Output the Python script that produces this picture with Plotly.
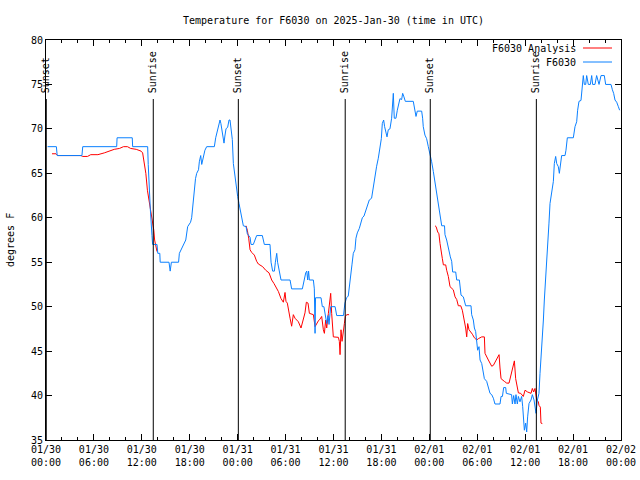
import pandas as pd
import plotly.graph_objects as go

START = pd.Timestamp("2025-01-30 00:00")

# Observed temperature (F6030): hours since 2025-01-30 00:00 UTC, degrees F
obs_hours = [0.2, 1.3, 1.4, 4.5, 4.6, 8.85, 8.9, 10.8, 10.85, 12.73, 12.8, 12.94, 13.06, 13.27, 13.35, 13.9, 14.0, 14.25, 14.3, 15.4, 15.55, 15.7, 16.6,
             16.7, 17.0, 17.3, 17.5, 17.74, 18.1, 18.24, 18.35, 18.45, 18.6, 18.72, 18.87, 19.1, 19.2, 19.37, 19.5, 19.7, 19.9, 20.12, 21.08, 21.25, 21.4,
             21.66, 21.79, 21.9, 22.08, 22.29, 22.4, 22.54, 22.75, 22.92, 23.04, 23.17, 23.33, 23.46, 23.6, 23.72, 23.88, 24.0, 24.17, 24.3, 24.42, 24.58,
             24.71, 25.05, 25.21, 25.55, 25.67, 25.96, 26.17, 26.38, 27.09, 27.34, 28.05, 28.18, 28.38, 28.6, 28.72, 28.89, 29.0, 29.22, 29.43, 30.56,
             30.76, 32.1, 32.31, 32.52, 32.65, 32.77, 32.88, 32.98, 33.48, 33.6, 33.69, 33.75, 34.44, 34.6, 34.8, 34.98, 35.15, 35.31, 35.44, 35.65, 36.2,
             36.4, 37.25, 37.43, 37.64, 37.85, 37.98, 38.15, 38.31, 38.48, 38.69, 38.81, 38.98, 39.23, 39.4, 39.61, 39.82, 40.07, 40.23, 40.48, 40.77,
             40.9, 41.07, 41.23, 41.4, 41.61, 41.82, 41.99, 42.11, 42.28, 42.4, 42.57, 42.7, 42.86, 43.07, 43.28, 43.4, 43.49, 43.61, 43.82, 43.99, 44.16,
             44.32, 44.53, 44.66, 44.82, 44.99, 45.99, 46.16, 46.33, 46.49, 47.04, 47.16, 47.24, 47.45, 47.66, 47.87, 48.08, 48.29, 48.5, 48.7, 48.91,
             49.12, 49.25, 49.34, 49.55, 49.9, 49.96, 50.17, 50.3, 50.46, 50.63, 50.8, 50.92, 51.3, 51.43, 51.76, 51.88, 51.97, 52.26, 52.38, 52.55,
             53.22, 53.3, 53.51, 53.64, 53.8, 53.93, 54.05, 54.22, 54.35, 54.56, 54.76, 54.89, 55.18, 55.39, 55.6, 55.81, 56.02, 56.22, 56.85, 56.98,
             57.15, 57.31, 57.56, 57.64, 58.3, 58.4, 58.56, 58.73, 58.85, 59.02, 59.15, 59.35, 59.56, 59.69, 59.81, 59.9, 60.06, 60.19, 60.31, 60.48,
             60.73, 60.9, 61.11, 61.23, 61.36, 61.53, 61.73, 61.86, 62.07, 62.28, 62.4, 62.57, 62.69, 62.82, 62.98, 63.11, 63.32, 63.53, 63.65, 63.82,
             63.95, 64.15, 64.28, 64.45, 64.57, 64.99, 65.11, 65.28, 66.03, 66.24, 66.45, 66.57, 66.74, 66.99, 67.16, 67.28, 67.41, 67.58, 67.7, 67.91,
             68.16, 68.33, 68.45, 68.74, 68.95, 69.25, 69.5, 69.91, 70.08, 70.75, 70.92, 71.08, 71.25, 71.46, 71.67, 71.83]
obs_temps = [68, 68, 67, 67, 68, 68, 69, 69, 68, 68, 66, 62.5, 61, 58, 57, 57, 56, 56, 55, 55, 54, 55, 55,
             56, 56.5, 57, 57.5, 59, 59.5, 60, 61, 62.4, 63.3, 64.4, 65, 65.4, 66.3, 67, 66, 67, 67.6, 68, 68, 69, 69.5,
             70.4, 71, 70.6, 69.5, 68.4, 69.2, 70, 70.2, 71, 71, 70.2, 68.8, 66.1, 65, 64.2, 63.1, 62.4, 61.6, 60.9, 60.3, 59.8,
             59.1, 59, 58.2, 57.8, 57, 57, 57.5, 58, 58, 57, 57, 55, 54, 54, 55, 56, 55, 54, 53, 53,
             52, 52, 53, 53.8, 54, 53, 54, 53, 53, 52, 47, 51, 51, 50, 50, 49, 48.1, 49, 48, 50, 50,
             49, 49, 50.4, 51, 51.2, 52.4, 53.6, 54.7, 56, 56.4, 57.7, 58.3, 58.8, 59.4, 60, 60.2, 60.9, 61.4, 62, 62.2,
             63, 63.9, 64.8, 65.8, 66.7, 67.8, 68.9, 70.6, 71, 70.25, 69.7, 69.1, 69.9, 70, 71.2, 73.1, 74, 71.2, 71.2, 72.1, 72.9,
             73.4, 73.3, 74, 73.6, 73.1, 73.1, 72.3, 71.4, 72, 72, 71.2, 70.25, 69.3, 68.9, 68, 67.3, 66.3, 65.2, 64.1, 62.8,
             61.8, 60.7, 60.1, 59.1, 59.1, 58.1, 57.5, 56.9, 56.2, 55.6, 55.1, 53.9, 53.9, 53, 53, 52.1, 51.3, 51.1, 50.6, 50.1,
             50.1, 49.1, 48.5, 47.6, 47.2, 46.1, 45.1, 45.5, 44, 43.6, 42.5, 41.9, 41.6, 41, 40.25, 40.1, 39.7, 39.05, 39.05, 39.9,
             39.9, 40.9, 40.9, 40.25, 40.1, 39.05, 40, 39.05, 40.1, 39.05, 39.9, 39.3, 39.9, 38.75, 37.6, 36.1, 36.9, 35.9, 37.6, 39.1,
             39.5, 40.1, 39.5, 38.4, 38, 39.5, 40.25, 42.5, 45.1, 48.5, 50.75, 53, 55.1, 56.4, 59.4, 61.6, 63.1, 64.1, 66.1, 66.9,
             66.1, 65.75, 65, 66.5, 67, 67, 67.6, 69, 69, 70.25, 70.8, 72.1, 73.1, 73.2, 74.9, 76, 75, 75, 76, 75,
             75, 76, 75, 75, 76, 75, 76, 76, 75, 75, 74.4, 74, 73.25, 73, 72.5, 72.1]

# Analysis temperature (F6030 Analysis), three segments separated by gaps (None)
ana_hours = [0.75, 1.25, 1.46, 4.38, 4.6, 5.2, 5.6, 6.5, 7.3, 7.9, 8.55, 9.2, 9.7, 10.2, 10.6, 11.3, 11.9, 12.1, 12.3, 12.5, 12.7, 12.9,
             13.15, 13.35, 13.5, 13.6, 13.8, 13.9, 19.0,
             25.05, 25.21, 25.38, 25.55, 25.76, 26.09, 26.38, 26.59, 27.13, 27.51, 27.93, 28.26, 28.55, 28.8, 29.1, 29.43, 29.72, 29.93, 30.05,
             30.22, 30.39, 30.56, 30.76, 30.97, 31.18, 31.6, 31.93, 32.22, 32.43, 32.6, 32.81, 32.98, 33.48, 33.69, 33.9, 34.1, 34.31, 34.52,
             34.73, 34.86, 35.02, 35.15, 35.36, 35.48, 35.65, 35.77, 35.98, 36.61, 36.73, 36.82, 36.94, 37.07, 37.24, 37.36, 37.49, 37.65, 37.95, 43.0,
             48.71, 48.85, 49.05, 49.2, 49.34, 49.46, 49.63, 49.76, 50.05, 50.17, 50.38, 50.59, 50.8, 51.0, 51.22, 51.43, 51.63, 51.93, 52.13,
             52.38, 52.55, 52.68, 52.8, 52.97, 53.18, 53.39, 53.64, 53.93, 54.14, 54.56, 54.89, 54.97, 55.39, 55.81, 56.02, 56.43, 56.73, 56.85,
             56.98, 57.39, 57.69, 57.98, 58.23, 58.44, 58.65, 58.81, 58.98, 59.15, 59.44, 59.77, 59.98, 60.31, 60.73, 60.9, 61.06, 61.23, 61.44,
             61.65, 61.73, 61.9, 61.98, 62.15]
ana_temps = [67.2, 67.2, 67.0, 67.0, 66.9, 66.9, 67.1, 67.1, 67.3, 67.5, 67.7, 67.8, 68.0, 68.0, 67.8, 67.7, 67.5, 67.3, 66.1, 65.0, 63.1, 62.0,
             60.9, 59.75, 58.6, 57.5, 56.4, 56.2, None,
             59.1, 58.6, 57.7, 56.4, 56.1, 55.8, 55.1, 54.8, 54.5, 54.1, 53.8, 53.0, 52.6, 52.2, 51.7, 50.9, 50.5, 51.6, 50.6,
             50.4, 49.4, 48.7, 47.8, 49.1, 48.7, 48.3, 47.6, 48.7, 49.3, 50.5, 50.4, 49.25, 49.1, 47.75, 48.1, 48.4, 48.6, 48.9,
             47.4, 47.0, 48.5, 47.6, 49.25, 50.4, 51.5, 49.25, 46.6, 46.55, 46.1, 44.6, 47.4, 46.1, 47.6, 48.1, 48.9, 49.1, 49.1, None,
             59.1, 59.0, 58.4, 58.2, 57.1, 56.2, 55.4, 54.7, 54.7, 54.1, 53.4, 52.25, 52.1, 51.9, 51.1, 50.8, 50.1, 50.1, 49.6,
             48.5, 47.6, 46.6, 48.1, 47.4, 47.2, 46.9, 46.5, 46.25, 46.4, 46.6, 46.6, 44.75, 44.0, 43.3, 43.4, 44.2, 44.6, 43.1,
             41.9, 41.6, 41.4, 41.4, 42.3, 43.1, 43.9, 41.9, 41.2, 40.3, 40.25, 39.9, 40.6, 40.4, 40.25, 40.8, 40.4, 40.8, 39.5,
             39.3, 38.9, 38.7, 36.9, 36.85]

# Sun events
event_times = ["2025-01-30 00:02", "2025-01-30 13:26", "2025-01-31 00:05",
               "2025-01-31 13:28", "2025-02-01 00:07", "2025-02-01 13:24"]
event_labels = ["Sunset", "Sunrise", "Sunset", "Sunrise", "Sunset", "Sunrise"]

tick_times = pd.date_range("2025-01-30 00:00", "2025-02-02 00:00", freq="6h")

series_names = ["F6030 Analysis", "F6030"]
series_colors = ["#ff0000", "#0a80ff"]

FONT = "DejaVu Sans Mono"

obs_x = [START + pd.Timedelta(hours=h) for h in obs_hours]
ana_x = [START + pd.Timedelta(hours=h) for h in ana_hours]

fig = go.Figure()
fig.add_trace(go.Scatter(x=ana_x, y=ana_temps, mode="lines", name=series_names[0],
                         line=dict(color=series_colors[0], width=1), connectgaps=False))
fig.add_trace(go.Scatter(x=obs_x, y=obs_temps, mode="lines", name=series_names[1],
                         line=dict(color=series_colors[1], width=1)))

# vertical sun event lines and labels
LINE_TOP = (440 - 99) / 400.0
for t, lab in zip(event_times, event_labels):
    fig.add_shape(type="line", xref="x", yref="paper", x0=t, x1=t, y0=0, y1=LINE_TOP,
                  line=dict(color="black", width=1))
    fig.add_annotation(x=t, xref="x", y=(440 - 95) / 400.0, yref="paper", text=lab,
                       textangle=-90, showarrow=False, xanchor="center", yanchor="bottom",
                       font=dict(family=FONT, size=10, color="black"))

# gnuplot-style legend (text left, sample right)
leg_y = [(440 - 48) / 400.0, (440 - 62) / 400.0]
for name, col, ly in zip(series_names, series_colors, leg_y):
    fig.add_annotation(x=(578 - 46) / 575.0, xref="paper", y=ly, yref="paper", text=name,
                       showarrow=False, xanchor="right", yanchor="middle",
                       font=dict(family=FONT, size=10, color="black"))
    fig.add_shape(type="line", xref="paper", yref="paper", x0=(583 - 46) / 575.0,
                  x1=(612 - 46) / 575.0, y0=ly, y1=ly, line=dict(color=col, width=1))

# y-axis title
fig.add_annotation(x=-36 / 575.0, xref="paper", y=0.5, yref="paper", text="degrees F",
                   textangle=-90, showarrow=False, xanchor="center", yanchor="middle",
                   font=dict(family=FONT, size=10, color="black"))

fig.update_layout(
    width=640, height=480,
    margin=dict(l=46, r=19, t=40, b=40, autoexpand=False),
    paper_bgcolor="white", plot_bgcolor="white",
    showlegend=False,
    font=dict(family=FONT, size=10, color="black"),
    title=dict(text="Temperature for F6030 on 2025-Jan-30 (time in UTC)",
               x=(333.5) / 640.0, xanchor="center", y=1 - 20 / 480.0, yanchor="middle",
               font=dict(family=FONT, size=10, color="black")),
)
fig.update_xaxes(
    type="date", range=[tick_times[0], tick_times[-1]], automargin=False,
    tickvals=list(tick_times), tickformat="%m/%d<br>%H:%M",
    ticks="inside", ticklen=6, tickcolor="black", tickwidth=1,
    minor=dict(dtick=2 * 3600 * 1000, ticks="inside", ticklen=3, tickcolor="black", tickwidth=1),
    showline=True, linecolor="black", linewidth=1, mirror="ticks",
    showgrid=False, zeroline=False,
    tickfont=dict(family=FONT, size=10, color="black"),
)
fig.update_yaxes(
    range=[35, 80], dtick=5, tick0=35, automargin=False,
    ticks="inside", ticklen=6, tickcolor="black", tickwidth=1,
    showline=True, linecolor="black", linewidth=1, mirror="ticks",
    showgrid=False, zeroline=False,
    tickfont=dict(family=FONT, size=10, color="black"),
)

fig.write_html("out.html", config={"displayModeBar": False},
               post_script="document.body.style.margin='0';document.body.style.padding='0';")
